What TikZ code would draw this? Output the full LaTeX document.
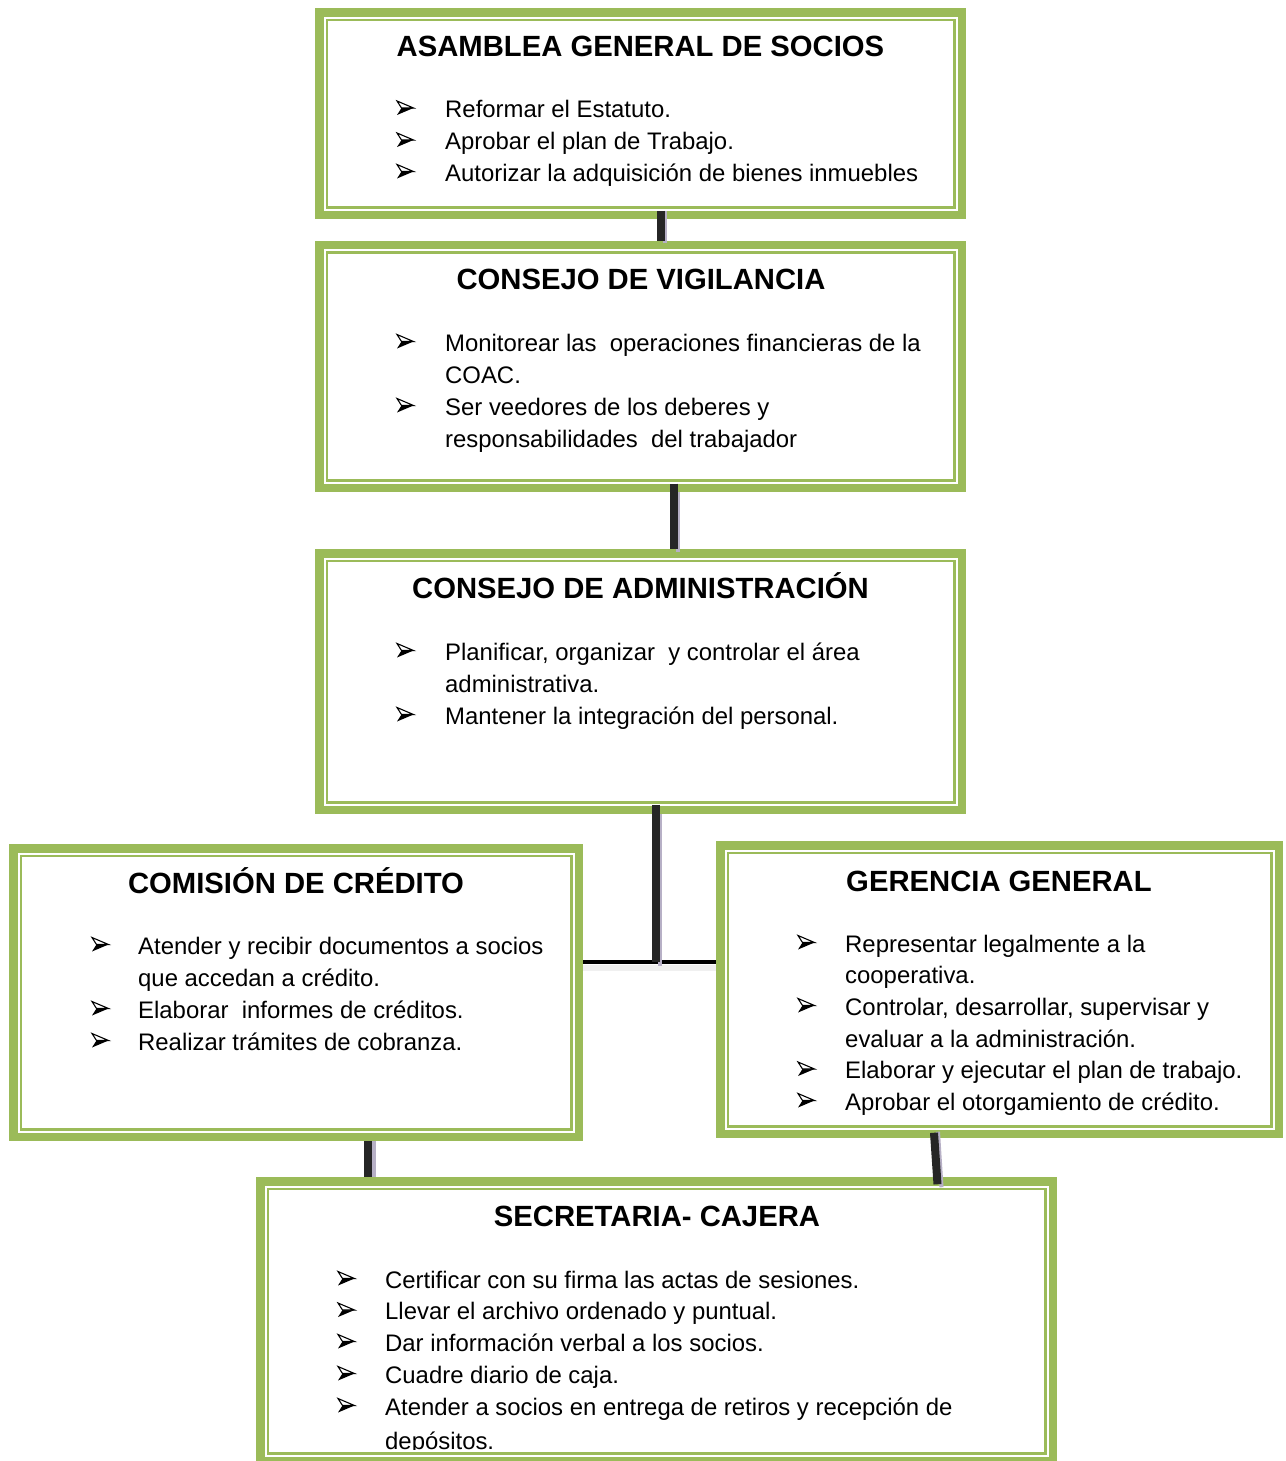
\documentclass[tikz,border=0pt]{standalone}
\usepackage{fontspec}
\setmainfont{Liberation Sans}
\usetikzlibrary{calc}

\definecolor{boxgreen}{HTML}{9BBB59}
\definecolor{linkdark}{HTML}{262626}
\definecolor{linkshade}{HTML}{B7B0C6}

\tikzset{
  orgbox/.style={draw=boxgreen, line width=8.5pt, inner sep=0pt, outer sep=0pt, fill=white},
  innerframe/.style={draw=boxgreen, line width=2.5pt},
  boxtitle/.style={font=\fontsize{29.25}{34}\selectfont\bfseries, anchor=base, inner sep=0pt},
  itemtext/.style={font=\fontsize{23.9}{32}\selectfont, anchor=base west, inner sep=0pt},
  link/.style={draw=linkdark, line width=8pt},
  linkshadow/.style={draw=linkshade, line width=4pt},
  pics/abullet/.style={code={
    \fill[black] (-3.5,0) -- (8.5,0) -- (-8,7) -- cycle;
    \draw[black, line width=1.1pt, line join=miter, fill=white] (-8,-7) -- (8.5,0) -- (-3.5,0) -- cycle;
  }}
}

% box: name, left, top, right, bottom (outer edges)
\newcommand\orgframe[5]{%
  \node[orgbox, minimum width={#4-#2-8.5}, minimum height={#5-#3-8.5}] (#1) at ({(#2+#4)/2},{(#3+#5)/2}) {};
  \draw[innerframe] ($(#1.north west)+(7.5,7.5)$) rectangle ($(#1.south east)+(-7.5,-7.5)$);
}
% bullet line: node name, bullet x, text x, baseline, text
\newcommand\bulletline[5]{%
  \pic at (#2,#4-9.5) {abullet};
  \node[itemtext] (#1) at (#3,#4) {#5};
}

\begin{document}
\begin{tikzpicture}[x=1pt,y=-1pt]
\useasboundingbox (0,0) rectangle (1285,1461);
\fill[white] (0,0) rectangle (1285,1461);

% boxes
\orgframe{asamblea}{315}{8.3}{966}{219.3}
\orgframe{vigilancia}{315}{240.7}{966}{492}
\orgframe{admin}{315}{549}{966}{814}
\orgframe{comision}{9}{844}{583}{1141}
\orgframe{gerencia}{716}{841}{1283}{1138}
\orgframe{secretaria}{256}{1177}{1057}{1465}

% connectors
\coordinate (junction) at (656,962);
\draw[linkshadow] ($(asamblea.south -| 664.5,0)+(0,-4)$) -- ($(vigilancia.north -| 664.5,0)+(0,-2)$);
\draw[link] ($(asamblea.south -| 660.5,0)+(0,-4.25)$) -- ($(vigilancia.north -| 660.5,0)+(0,-4.25)$);
\draw[linkshadow] ($(vigilancia.south -| 678,0)+(0,4.25)$) -- ($(admin.north -| 678,0)+(0,-1)$);
\draw[link] ($(vigilancia.south -| 674,0)+(0,-4.25)$) -- ($(admin.north -| 674,0)+(0,-4.25)$);
\draw[gray!12, line width=6pt] ($(comision.east |- junction)+(4.25,6)$) -- ($(gerencia.west |- junction)+(-4.25,6)$);
\draw[black, line width=4.7pt] ($(comision.east |- junction)+(4.25,0)$) -- ($(gerencia.west |- junction)+(-4.25,0)$);
\draw[linkshadow] ($(admin.south -| 660,0)+(0,4.25)$) -- ($(junction)+(4,4)$);
\draw[link] ($(admin.south -| junction)+(0,-5)$) -- (junction);
\draw[linkshadow] ($(comision.south -| 374,0)+(0,4.25)$) -- ($(secretaria.north -| 374,0)+(0,-4.25)$);
\draw[link] ($(comision.south -| 368,0)+(0,4.25)$) -- ($(secretaria.north -| 368,0)+(0,-4.25)$);
\draw[linkshadow] ($(gerencia.south -| 938,0)+(0,-2)$) -- ($(secretaria.north -| 941.5,0)+(0,6)$);
\draw[link] ($(gerencia.south -| 934,0)+(0,-1)$) -- ($(secretaria.north -| 937.5,0)+(0,3)$);

% ASAMBLEA GENERAL DE SOCIOS
\node[boxtitle] (asamblea-t) at (640.5,56.5) {ASAMBLEA GENERAL DE SOCIOS};
\bulletline{asamblea-1}{405}{445}{117.5}{Reformar el Estatuto.}
\bulletline{asamblea-2}{405}{445}{149.5}{Aprobar el plan de Trabajo.}
\bulletline{asamblea-3}{405}{445}{181}{Autorizar la adquisición de bienes inmuebles}

% CONSEJO DE VIGILANCIA
\node[boxtitle] (vigilancia-t) at (641,289.5) {CONSEJO DE VIGILANCIA};
\bulletline{vigilancia-1}{405}{445}{351}{Monitorear las\ \ operaciones financieras de la}
\node[itemtext] (vigilancia-1b) at (445,383) {COAC.};
\bulletline{vigilancia-2}{405}{445}{415}{Ser veedores de los deberes y}
\node[itemtext] (vigilancia-2b) at (445,447) {responsabilidades\ \ del trabajador};

% CONSEJO DE ADMINISTRACION
\node[boxtitle] (admin-t) at (640.5,598) {CONSEJO DE ADMINISTRACIÓN};
\bulletline{admin-1}{405}{445}{660}{Planificar, organizar\ \ y controlar el área}
\node[itemtext] (admin-1b) at (445,692) {administrativa.};
\bulletline{admin-2}{405}{445}{724}{Mantener la integración del personal.}

% COMISION DE CREDITO
\node[boxtitle] (comision-t) at (296,893) {COMISIÓN DE CRÉDITO};
\bulletline{comision-1}{100}{138}{954}{Atender y recibir documentos a socios}
\node[itemtext] (comision-1b) at (138,986) {que accedan a crédito.};
\bulletline{comision-2}{100}{138}{1018}{Elaborar\ \ informes de créditos.}
\bulletline{comision-3}{100}{138}{1050}{Realizar trámites de cobranza.}

% GERENCIA GENERAL
\node[boxtitle] (gerencia-t) at (999,891) {GERENCIA GENERAL};
\bulletline{gerencia-1}{806}{845}{952}{Representar legalmente a la}
\node[itemtext] (gerencia-1b) at (845,983.5) {cooperativa.};
\bulletline{gerencia-2}{806}{845}{1015}{Controlar, desarrollar, supervisar y}
\node[itemtext] (gerencia-2b) at (845,1047) {evaluar a la administración.};
\bulletline{gerencia-3}{806}{845}{1078.5}{Elaborar y ejecutar el plan de trabajo.}
\bulletline{gerencia-4}{806}{845}{1110}{Aprobar el otorgamiento de crédito.}

% SECRETARIA- CAJERA
\node[boxtitle] (secretaria-t) at (657,1226) {SECRETARIA- CAJERA};
\begin{scope}
\clip (256,1177) rectangle (1057,1449.5);
\bulletline{secretaria-1}{346}{385}{1288}{Certificar con su firma las actas de sesiones.}
\bulletline{secretaria-2}{346}{385}{1319.5}{Llevar el archivo ordenado y puntual.}
\bulletline{secretaria-3}{346}{385}{1351}{Dar información verbal a los socios.}
\bulletline{secretaria-4}{346}{385}{1383}{Cuadre diario de caja.}
\bulletline{secretaria-5}{346}{385}{1415}{Atender a socios en entrega de retiros y recepción de}
\node[itemtext] (secretaria-5b) at (385,1449) {depósitos.};
\end{scope}
\end{tikzpicture}
\end{document}
